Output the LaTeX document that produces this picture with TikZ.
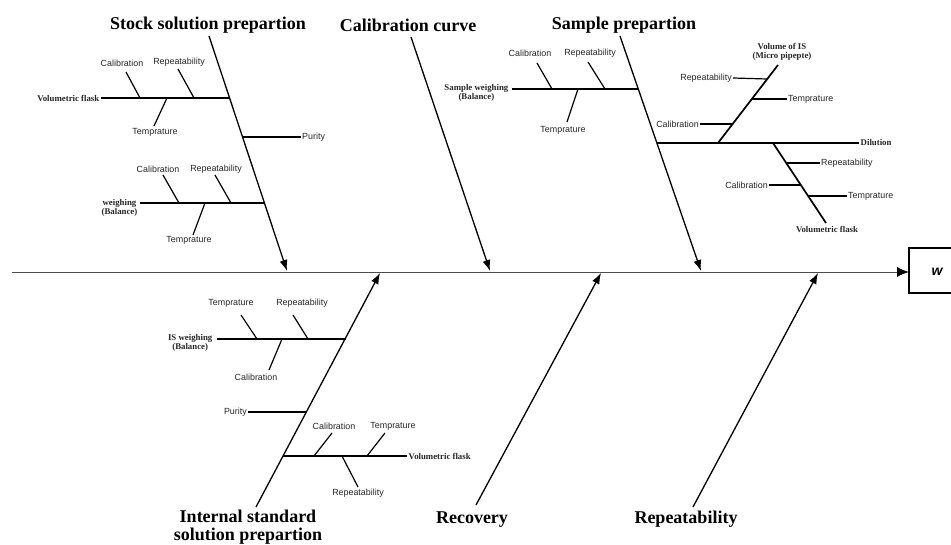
\documentclass[tikz,border=0pt]{standalone}
\usepackage{fontspec}
\setmainfont{Liberation Serif}
\setsansfont{Liberation Sans}
\usetikzlibrary{arrows.meta}
\begin{document}
\begin{tikzpicture}[x=1pt,y=-1pt,
  title/.style={font=\fontsize{18}{18}\selectfont\bfseries, inner sep=0pt, align=center},
  lab/.style={font=\sffamily\fontsize{8.9}{9}\selectfont, inner sep=1pt, text=black!85},
  blab/.style={font=\bfseries\fontsize{8.8}{9}\selectfont, inner sep=1.5pt, align=center, text=black!85},
  bone/.style={line width=1.3pt, -{Latex[length=11pt,width=8pt]}},
  branch/.style={line width=1.7pt},
  tick/.style={line width=1.2pt},
  spine/.style={line width=0.9pt, draw=black!70, -{Latex[length=12pt,width=10pt,color=black]}}
]
\useasboundingbox (0,0) rectangle (951,545);

% ---------- spine and effect box ----------
\coordinate (s0) at (12,272);
\coordinate (boxW) at (909,272);
\draw[spine] (s0) -- (boxW);
\draw[line width=2.2pt] (953,248) -- (909,248) -- (909,293) -- (953,293);
\node[font=\sffamily\bfseries\itshape\fontsize{14}{14}\selectfont] (w) at (937,272) {w};

% ---------- main bones ----------
\node[title] (tStock) at (208,25) {Stock solution prepartion};
\node[title] (tCal) at (408,25) {Calibration curve};
\node[title] (tSample) at (624,25) {Sample prepartion};
\node[title] (tIS) at (248,527) {Internal standard\\solution prepartion};
\node[title] (tRec) at (472,520) {Recovery};
\node[title] (tRep) at (686,519) {Repeatability};

\coordinate (b1s) at (209,36);  \coordinate (b1e) at (287,271);
\coordinate (b2s) at (411,37);  \coordinate (b2e) at (490,271);
\coordinate (b3s) at (620,36);  \coordinate (b3e) at (701,271);
\coordinate (b4s) at (256,507); \coordinate (b4e) at (380,273);
\coordinate (b5s) at (476,505); \coordinate (b5e) at (601,273);
\coordinate (b6s) at (693,507); \coordinate (b6e) at (818,273);
\draw[bone] (b1s) -- (b1e);
\draw[bone] (b2s) -- (b2e);
\draw[bone] (b3s) -- (b3e);
\draw[bone] (b4s) -- (b4e);
\draw[bone] (b5s) -- (b5e);
\draw[bone] (b6s) -- (b6e);

% ---------- Stock solution preparation ----------
\node[blab, anchor=east] (vf1) at (101,98) {Volumetric flask};
\coordinate (j1) at (229.7,98);
\draw[branch] (vf1.east) -- (j1);
\node[lab] (c1) at (122,63) {Calibration};
\node[lab] (r1) at (179,62) {Repeatability};
\node[lab] (t1) at (155,132) {Temprature};
\draw[tick] (126,72) -- (140,98);
\draw[tick] (178,69) -- (194,98);
\draw[tick] (167,98) -- (154,126);

\coordinate (j2) at (242.7,137);
\node[lab, anchor=west] (p1) at (301,137) {Purity};
\draw[tick] (j2) -- (p1.west);

\node[blab, anchor=east] (wb1) at (139,208) {weighing\\(Balance)};
\coordinate (j3) at (264.7,203);
\draw[branch] (140,203) -- (j3);
\node[lab] (c2) at (158,169) {Calibration};
\node[lab] (r2) at (216,169) {Repeatability};
\node[lab] (t2) at (189,240) {Temprature};
\draw[tick] (163,175) -- (179,203);
\draw[tick] (215,175) -- (231,203);
\draw[tick] (205,203) -- (193,235);

% ---------- Sample preparation ----------
\node[blab, anchor=east] (sw) at (510,93) {Sample weighing\\(Balance)};
\coordinate (j4) at (638.3,89);
\draw[branch] (512,89) -- (j4);
\node[lab] (c3) at (530,53) {Calibration};
\node[lab] (r3) at (590,53) {Repeatability};
\node[lab] (t3) at (563,130) {Temprature};
\draw[tick] (537,63) -- (552,89);
\draw[tick] (588,62) -- (605,89);
\draw[tick] (578,89) -- (567,122);

\coordinate (j5) at (656.9,143);
\node[blab, anchor=west] (dil) at (859,143) {Dilution};
\draw[branch] (j5) -- (dil.west);

\coordinate (v1s) at (718,143);
\node[blab] (vis) at (782,52) {Volume of IS\\(Micro pipepte)};
\draw[branch] (v1s) -- (778,65);
\node[lab, anchor=east] (r4) at (733,78) {Repeatability};
\node[lab, anchor=west] (t4) at (787,99) {Temprature};
\node[lab, anchor=east] (c4) at (700,124) {Calibration};
\draw[tick] (r4.east) -- (767,79);
\draw[tick] (752,99) -- (t4.west);
\draw[tick] (c4.east) -- (733,124);

\coordinate (v2s) at (773,143);
\node[blab] (vf2) at (827,229) {Volumetric flask};
\draw[branch] (v2s) -- (826,223);
\node[lab, anchor=west] (r5) at (820,163) {Repeatability};
\node[lab, anchor=east] (c5) at (769,185) {Calibration};
\node[lab, anchor=west] (t5) at (847,196) {Temprature};
\draw[tick] (786,163) -- (r5.west);
\draw[tick] (c5.east) -- (801,185);
\draw[tick] (808,196) -- (t5.west);

% ---------- Internal standard solution preparation ----------
\node[blab, anchor=east] (isw) at (214,343) {IS weighing\\(Balance)};
\coordinate (j6) at (345.7,339);
\draw[branch] (217,339) -- (j6);
\node[lab] (t6) at (231,303) {Temprature};
\node[lab] (r6) at (302,303) {Repeatability};
\node[lab] (c6) at (256,377) {Calibration};
\draw[tick] (241,315) -- (257,339);
\draw[tick] (293,315) -- (308,339);
\draw[tick] (282,339) -- (269,370);

\coordinate (j7) at (306.8,412);
\node[lab, anchor=east] (p2) at (248,412) {Purity};
\draw[tick] (p2.east) -- (j7);

\coordinate (j8) at (283,456);
\node[blab, anchor=west] (vf3) at (407,456) {Volumetric flask};
\draw[branch] (j8) -- (vf3.west);
\node[lab] (c7) at (334,426) {Calibration};
\node[lab] (t7) at (393,426) {Temprature};
\node[lab] (r7) at (358,493) {Repeatability};
\draw[tick] (332,433) -- (314,456);
\draw[tick] (385,433) -- (367,456);
\draw[tick] (342,456) -- (358,487);
\end{tikzpicture}
\end{document}
